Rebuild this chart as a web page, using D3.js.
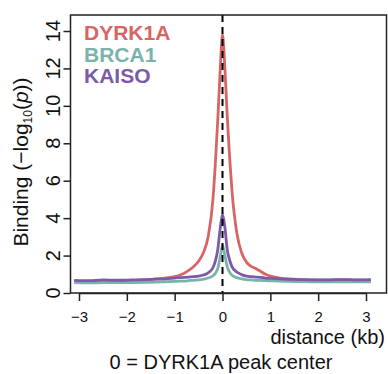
<!DOCTYPE html>
<html>
<head>
<meta charset="utf-8">
<script src="https://cdn.jsdelivr.net/npm/d3@7"></script>
<style>
  body { margin: 0; background: #fff; }
  text { font-family: "Liberation Sans", Arial, Helvetica, sans-serif; }
</style>
</head>
<body>
<div id="chart"></div>
<script>
// distance from DYRK1A peak center (kb)
const distance = [-3.1, -2.8, -2.5, -2.2, -1.9, -1.6, -1.4, -1.2, -1.0, -0.9, -0.8, -0.7, -0.6, -0.5, -0.4, -0.3, -0.2, -0.15, -0.1, -0.05,
  0, 0.05, 0.1, 0.15, 0.2, 0.3, 0.4, 0.5, 0.6, 0.7, 0.8, 0.9, 1.0, 1.2, 1.4, 1.6, 1.9, 2.2, 2.5, 2.8, 3.1];

// binding, -log10(p)
const dyrk1a = [0.62, 0.6, 0.62, 0.63, 0.66, 0.7, 0.75, 0.8, 0.88, 0.95, 1.05, 1.22, 1.42, 1.7, 2.15, 3.0, 5.0, 6.9, 9.2, 11.8,
  13.8, 12.0, 9.4, 7.2, 5.4, 3.2, 2.15, 1.65, 1.42, 1.3, 1.15, 1.0, 0.9, 0.8, 0.75, 0.72, 0.7, 0.68, 0.7, 0.68, 0.68];
const brca1 = [0.55, 0.54, 0.55, 0.55, 0.56, 0.57, 0.58, 0.6, 0.62, 0.63, 0.64, 0.66, 0.68, 0.7, 0.74, 0.8, 0.92, 1.05, 1.3, 1.9,
  2.55, 2.0, 1.4, 1.1, 0.95, 0.82, 0.76, 0.72, 0.7, 0.68, 0.67, 0.66, 0.65, 0.63, 0.62, 0.61, 0.6, 0.6, 0.6, 0.6, 0.6];
const kaiso = [0.68, 0.66, 0.7, 0.68, 0.7, 0.72, 0.74, 0.76, 0.8, 0.82, 0.83, 0.85, 0.87, 0.9, 0.96, 1.08, 1.35, 1.7, 2.3, 3.4,
  4.2, 3.5, 2.3, 1.75, 1.4, 1.12, 0.98, 0.9, 0.87, 0.85, 0.83, 0.8, 0.78, 0.75, 0.73, 0.72, 0.7, 0.7, 0.72, 0.7, 0.72];

const series = [
  { name: "DYRK1A", values: dyrk1a, color: "#d76566" },
  { name: "BRCA1", values: brca1, color: "#7ab3ab" },
  { name: "KAISO", values: kaiso, color: "#7b5aa9" }
];

const xTicks = [-3, -2, -1, 0, 1, 2, 3];
const yTicks = [0, 2, 4, 6, 8, 10, 12, 14];

const width = 388, height = 374;
const svg = d3.select("#chart").append("svg")
  .attr("width", width)
  .attr("height", height);

// plot box
const boxLeft = 70.5, boxRight = 386.5, boxTop = 15, boxBottom = 293;

const x = d3.scaleLinear().domain([-3, 3]).range([79, 366]);
const y = d3.scaleLinear().domain([0, 14]).range([boxBottom, 31]);

const line = d3.line()
  .x((d, i) => x(distance[i]))
  .y(d => y(d))
  .curve(d3.curveMonotoneX);

// series lines
svg.append("g")
  .selectAll("path")
  .data(series)
  .join("path")
  .attr("d", d => line(d.values))
  .attr("fill", "none")
  .attr("stroke", d => d.color)
  .attr("stroke-width", 2.8)
  .attr("stroke-linejoin", "round");

// dashed line at the peak center
svg.append("line")
  .attr("x1", x(0)).attr("x2", x(0))
  .attr("y1", boxTop).attr("y2", boxBottom)
  .attr("stroke", "#000")
  .attr("stroke-width", 2)
  .attr("stroke-dasharray", "7,5");

// box
svg.append("rect")
  .attr("x", boxLeft).attr("y", boxTop)
  .attr("width", boxRight - boxLeft).attr("height", boxBottom - boxTop)
  .attr("fill", "none")
  .attr("stroke", "#222")
  .attr("stroke-width", 1.5);

// x axis
const xAxis = svg.append("g")
  .attr("transform", `translate(0,${boxBottom})`)
  .call(d3.axisBottom(x).tickValues(xTicks).tickSize(8).tickSizeOuter(0).tickPadding(10)
    .tickFormat(d => d < 0 ? "\u2212" + Math.abs(d) : d));
xAxis.select(".domain").attr("stroke", "#222").attr("stroke-width", 1.5);
xAxis.selectAll(".tick line").attr("stroke", "#222").attr("stroke-width", 1.5);
xAxis.selectAll(".tick text")
  .attr("fill", "#111")
  .style("font-size", "15px")
  .style("font-family", "'Liberation Sans', Arial, sans-serif");

// y axis (labels rotated like base R)
const yAxis = svg.append("g")
  .attr("transform", `translate(${boxLeft},0)`)
  .call(d3.axisLeft(y).tickValues(yTicks).tickSize(7).tickSizeOuter(0).tickFormat(""));
yAxis.select(".domain").remove();
yAxis.selectAll(".tick line").attr("stroke", "#222").attr("stroke-width", 1.5);

svg.append("g")
  .selectAll("text")
  .data(yTicks)
  .join("text")
  .attr("transform", d => `translate(60,${y(d)}) rotate(-90)`)
  .attr("text-anchor", "middle")
  .attr("fill", "#111")
  .style("font-size", "20px")
  .text(d => d);

// axis titles
const yTitle = svg.append("text")
  .attr("transform", "translate(28,162) rotate(-90)")
  .attr("text-anchor", "middle")
  .attr("fill", "#111")
  .style("font-size", "21px");
yTitle.append("tspan").text("Binding (\u2212log");
yTitle.append("tspan").attr("dy", 4).style("font-size", "12px").text("10");
yTitle.append("tspan").attr("dy", -4).text("(");
yTitle.append("tspan").style("font-style", "italic").text("p");
yTitle.append("tspan").text("))");

svg.append("text")
  .attr("x", 385).attr("y", 344)
  .attr("text-anchor", "end")
  .attr("fill", "#111")
  .style("font-size", "20px")
  .text("distance (kb)");

svg.append("text")
  .attr("x", 221).attr("y", 369)
  .attr("text-anchor", "middle")
  .attr("fill", "#111")
  .style("font-size", "20px")
  .text("0 = DYRK1A peak center");

// legend
svg.append("g")
  .selectAll("text")
  .data(series)
  .join("text")
  .attr("x", 84)
  .attr("y", (d, i) => 40 + i * 21.5)
  .attr("fill", d => d.color)
  .style("font-size", "21px")
  .style("font-weight", "bold")
  .text(d => d.name);
</script>
</body>
</html>
